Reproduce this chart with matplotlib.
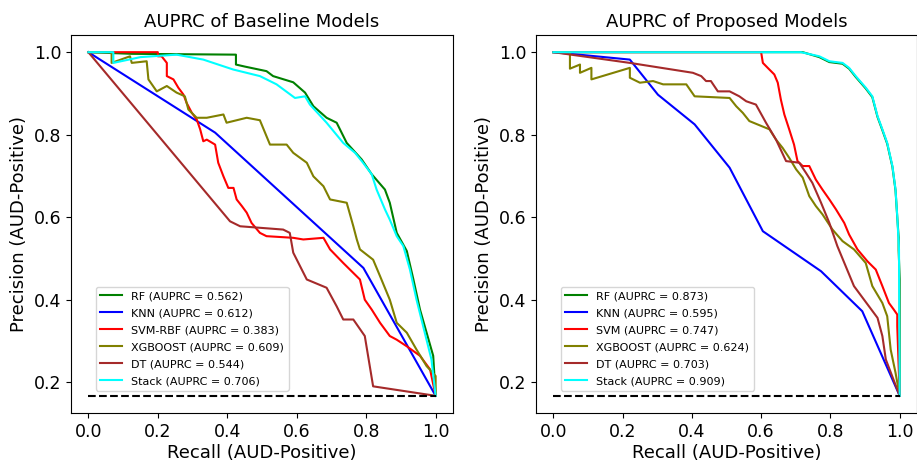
import matplotlib
matplotlib.use("Agg")
import matplotlib.pyplot as plt

# baseline models (left panel)
rf_base_r = [0.0, 0.125, 0.425, 0.425, 0.451, 0.513, 0.532, 0.590, 0.624, 0.648, 0.686, 0.715, 0.744,
             0.787, 0.816, 0.854, 0.868, 0.888, 0.917, 0.936, 0.955, 0.974, 0.993, 1.0]
rf_base_p = [1.0, 0.996, 0.994, 0.970, 0.965, 0.954, 0.942, 0.927, 0.902, 0.869, 0.841, 0.829, 0.780,
             0.740, 0.704, 0.667, 0.635, 0.562, 0.518, 0.449, 0.376, 0.320, 0.264, 0.167]

knn_base_r = [0.0, 0.365, 0.792, 1.0]
knn_base_p = [1.0, 0.805, 0.477, 0.167]

svm_base_r = [0.0, 0.2, 0.2, 0.211, 0.226, 0.226, 0.245, 0.259, 0.274, 0.283, 0.298, 0.312, 0.322, 0.331,
              0.341, 0.365, 0.374, 0.389, 0.403, 0.418, 0.427, 0.442, 0.456, 0.470, 0.494, 0.513, 0.590,
              0.619, 0.677, 0.696, 0.734, 0.782, 0.796, 0.816, 0.840, 0.868, 0.888, 0.917, 0.955, 0.984, 1.0]
svm_base_p = [1.0, 1.0, 0.990, 0.990, 0.974, 0.942, 0.934, 0.914, 0.897, 0.877, 0.853, 0.837, 0.813, 0.784,
              0.788, 0.776, 0.732, 0.699, 0.671, 0.671, 0.643, 0.627, 0.611, 0.586, 0.562, 0.554, 0.550,
              0.546, 0.550, 0.522, 0.489, 0.449, 0.400, 0.376, 0.344, 0.312, 0.303, 0.287, 0.264, 0.231, 0.167]

xgb_base_r = [0.0, 0.067, 0.067, 0.120, 0.125, 0.168, 0.173, 0.197, 0.226, 0.254, 0.278, 0.288, 0.312, 0.341,
              0.389, 0.398, 0.456, 0.494, 0.523, 0.571, 0.590, 0.629, 0.648, 0.677, 0.696, 0.744, 0.763,
              0.773, 0.782, 0.820, 0.840, 0.868, 0.888, 0.917, 0.945, 0.974, 1.0, 1.0]
xgb_base_p = [1.0, 1.0, 0.974, 0.990, 0.974, 0.978, 0.934, 0.905, 0.918, 0.902, 0.893, 0.861, 0.841, 0.841,
              0.849, 0.829, 0.841, 0.835, 0.776, 0.776, 0.756, 0.732, 0.699, 0.675, 0.643, 0.635, 0.578,
              0.546, 0.522, 0.497, 0.457, 0.400, 0.344, 0.320, 0.279, 0.239, 0.215, 0.167]

dt_base_r = [0.0, 0.408, 0.437, 0.561, 0.580, 0.590, 0.629, 0.686, 0.715, 0.734, 0.763, 0.796, 0.820, 1.0]
dt_base_p = [1.0, 0.590, 0.578, 0.570, 0.562, 0.514, 0.449, 0.429, 0.384, 0.352, 0.352, 0.312, 0.190, 0.167]

st_base_r = [0.0, 0.072, 0.072, 0.15, 0.254, 0.331, 0.417, 0.494, 0.542, 0.595, 0.624, 0.638, 0.686, 0.734,
             0.768, 0.791, 0.816, 0.830, 0.854, 0.868, 0.888, 0.907, 0.926, 0.945, 0.964, 0.988, 1.0]
st_base_p = [1.0, 1.0, 0.974, 0.988, 0.994, 0.982, 0.958, 0.942, 0.922, 0.889, 0.893, 0.873, 0.829, 0.780,
             0.756, 0.732, 0.704, 0.667, 0.619, 0.594, 0.554, 0.530, 0.473, 0.400, 0.336, 0.255, 0.167]

# proposed models (right panel)
st_prop_r = [0.0, 0.715, 0.768, 0.797, 0.835, 0.854, 0.873, 0.902, 0.921, 0.936, 0.950, 0.964, 0.979,
             0.988, 0.993, 0.998, 1.0]
st_prop_p = [1.0, 1.0, 0.990, 0.978, 0.974, 0.962, 0.942, 0.914, 0.893, 0.845, 0.813, 0.780, 0.724,
             0.667, 0.602, 0.522, 0.167]

rf_prop_r = [0.0, 0.72, 0.768, 0.797, 0.835, 0.854, 0.873, 0.902, 0.921, 0.936, 0.950, 0.964, 0.979,
             0.988, 0.993, 0.997, 0.997, 1.0, 1.0]
rf_prop_p = [1.0, 1.0, 0.988, 0.976, 0.972, 0.960, 0.940, 0.912, 0.891, 0.843, 0.811, 0.778, 0.722,
             0.665, 0.600, 0.551, 0.52, 0.45, 0.167]

knn_prop_r = [0.0, 0.221, 0.302, 0.408, 0.509, 0.605, 0.773, 0.892, 1.0]
knn_prop_p = [1.0, 0.982, 0.897, 0.825, 0.720, 0.566, 0.469, 0.372, 0.167]

svm_prop_r = [0.0, 0.6, 0.605, 0.619, 0.638, 0.648, 0.657, 0.667, 0.681, 0.695, 0.705, 0.720, 0.739, 0.758,
              0.777, 0.797, 0.816, 0.840, 0.854, 0.878, 0.907, 0.931, 0.950, 0.969, 0.983, 0.993, 0.993, 1.0]
svm_prop_p = [1.0, 1.0, 0.974, 0.962, 0.946, 0.926, 0.885, 0.849, 0.813, 0.776, 0.736, 0.724, 0.724, 0.691,
              0.667, 0.643, 0.619, 0.586, 0.558, 0.522, 0.493, 0.473, 0.433, 0.392, 0.376, 0.364, 0.336, 0.167]

xgb_prop_r = [0.0, 0.048, 0.048, 0.077, 0.077, 0.110, 0.110, 0.221, 0.221, 0.250, 0.288, 0.317, 0.384, 0.408,
              0.509, 0.528, 0.547, 0.566, 0.624, 0.643, 0.662, 0.681, 0.701, 0.720, 0.739, 0.758, 0.777,
              0.806, 0.835, 0.868, 0.902, 0.921, 0.950, 0.964, 0.974, 0.988, 1.0]
xgb_prop_p = [1.0, 1.0, 0.960, 0.970, 0.950, 0.962, 0.934, 0.962, 0.938, 0.926, 0.930, 0.922, 0.922, 0.893,
              0.889, 0.869, 0.853, 0.833, 0.813, 0.788, 0.768, 0.744, 0.716, 0.696, 0.651, 0.627, 0.607,
              0.570, 0.542, 0.522, 0.489, 0.433, 0.392, 0.360, 0.279, 0.223, 0.167]

dt_prop_r = [0.0, 0.221, 0.403, 0.427, 0.441, 0.455, 0.475, 0.509, 0.537, 0.557, 0.585, 0.614, 0.643, 0.672,
             0.710, 0.729, 0.748, 0.773, 0.797, 0.820, 0.868, 0.936, 0.950, 0.960, 1.0]
dt_prop_p = [1.0, 0.974, 0.950, 0.942, 0.930, 0.930, 0.905, 0.905, 0.893, 0.881, 0.873, 0.829, 0.788, 0.736,
             0.732, 0.708, 0.683, 0.635, 0.586, 0.530, 0.433, 0.356, 0.312, 0.255, 0.167]

baseline_prev = 0.167

base_labels = ["RF (AUPRC = 0.562)", "KNN (AUPRC = 0.612)", "SVM-RBF (AUPRC = 0.383)",
               "XGBOOST (AUPRC = 0.609)", "DT (AUPRC = 0.544)", "Stack (AUPRC = 0.706)"]
prop_labels = ["RF (AUPRC = 0.873)", "KNN (AUPRC = 0.595)", "SVM (AUPRC = 0.747)",
               "XGBOOST (AUPRC = 0.624)", "DT (AUPRC = 0.703)", "Stack (AUPRC = 0.909)"]
colors = ["green", "blue", "red", "olive", "brown", "cyan"]

base_curves = [(rf_base_r, rf_base_p), (knn_base_r, knn_base_p), (svm_base_r, svm_base_p),
               (xgb_base_r, xgb_base_p), (dt_base_r, dt_base_p), (st_base_r, st_base_p)]
prop_curves = [(rf_prop_r, rf_prop_p), (knn_prop_r, knn_prop_p), (svm_prop_r, svm_prop_p),
               (xgb_prop_r, xgb_prop_p), (dt_prop_r, dt_prop_p), (st_prop_r, st_prop_p)]

fig = plt.figure(figsize=(9.17, 4.61), dpi=100)
ax1 = fig.add_axes([0.0774, 0.1041, 0.4166, 0.8200])
ax2 = fig.add_axes([0.5845, 0.1041, 0.4155, 0.8200])

for ax, curves, labels, title in [(ax1, base_curves, base_labels, "AUPRC of Baseline Models"),
                                  (ax2, prop_curves, prop_labels, "AUPRC of Proposed Models")]:
    for (r, p), lab, c in zip(curves, labels, colors):
        ax.plot(r, p, color=c, lw=1.5, label=lab)
    # no-skill line
    ax.plot([0, 1], [baseline_prev, baseline_prev], "k--", lw=1.5)
    ax.set_title(title, fontsize=13)
    ax.set_xlabel("Recall (AUD-Positive)", fontsize=13, labelpad=2)
    ax.set_ylabel("Precision (AUD-Positive)", fontsize=13)
    ax.tick_params(labelsize=12.5)
    ax.legend(loc="lower left", bbox_to_anchor=(0.065, 0.059), borderaxespad=0,
              fontsize=8, labelspacing=0.63)

fig.savefig("out.png", dpi=100)
